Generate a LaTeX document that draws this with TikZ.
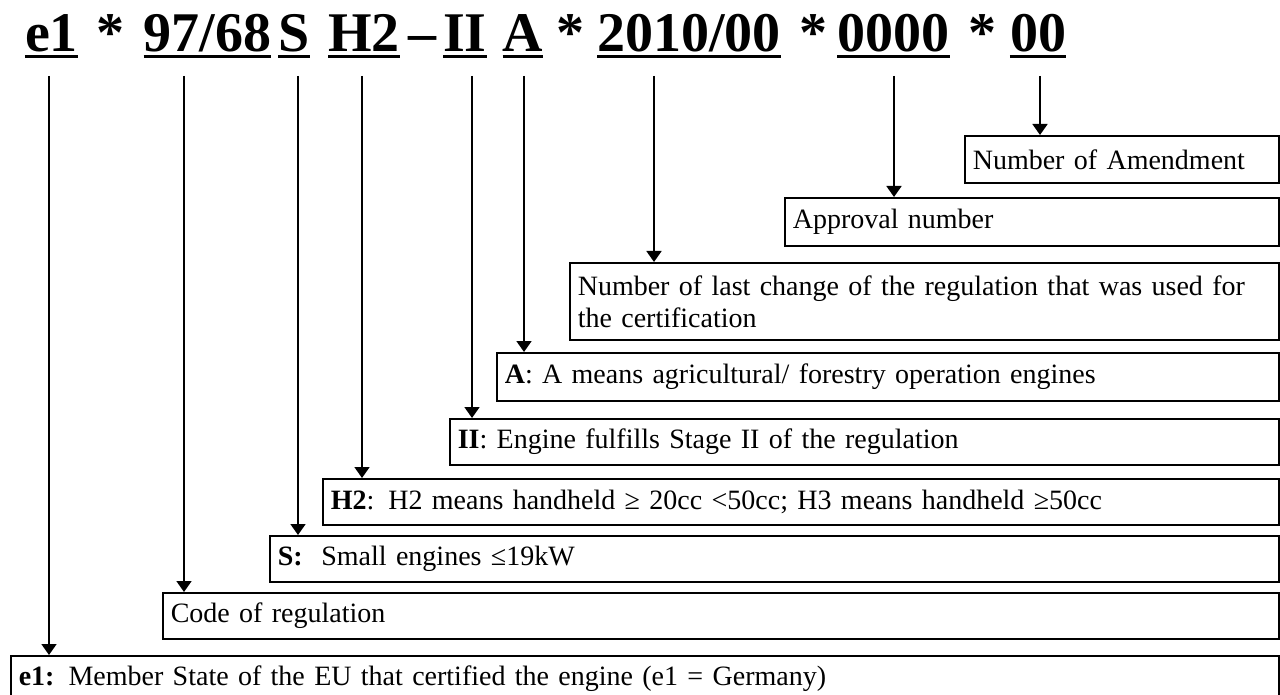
\documentclass[tikz,border=0pt]{standalone}
\usepackage{fontspec}
\setmainfont{Liberation Serif}
\usetikzlibrary{arrows.meta}
\begin{document}
\begin{tikzpicture}[x=1pt,y=-1pt,
  every node/.style={font=\fontsize{28}{32}\selectfont},
  tok/.style={font=\fontsize{56}{60}\selectfont\bfseries, inner sep=0pt, anchor=base},
  uline/.style={line width=3pt},
  infobox/.style={draw, line width=1.6pt, anchor=north west, inner xsep=8pt, inner ysep=0pt, align=left},
  arr/.style={line width=1.8pt, -{Triangle[width=15pt,length=11pt]}}]
\useasboundingbox (0,0) rectangle (1280,695);

% title tokens
\node[tok] (te1)   at (51.5,52) {e1};
\node[tok] (s1)    at (110.5,52) {*};
\node[tok] (t9768) at (207.5,52) {97/68};
\node[tok] (tS)    at (294,52) {S};
\node[tok] (tH2)   at (364,52) {H2};
\node[tok] (dash)  at (422,52) {–};
\node[tok] (tII)   at (465,52) {II};
\node[tok] (tA)    at (523,52) {A};
\node[tok] (s2)    at (570,52) {*};
\node[tok] (t2010) at (689,52) {2010/00};
\node[tok] (s3)    at (813.5,52) {*};
\node[tok] (t0000) at (893.5,52) {0000};
\node[tok] (s4)    at (982.5,52) {*};
\node[tok] (t00)   at (1038,52) {00};
\foreach \t in {te1,t9768,tS,tH2,tII,tA,t2010,t0000,t00}
  \draw[uline] ([yshift=-5pt]\t.base west) -- ([yshift=-5pt]\t.base east);

% boxes
\node[infobox, text width=298pt, minimum height=47pt] (bnoa) at (964,135) {Number of Amendment};
\node[infobox, text width=478pt, minimum height=48pt] (bapp) at (784,197) {Approval number};
\node[infobox, text width=693pt, minimum height=77pt] (bnlc) at (569,262) {Number of last change of the regulation that was used for\\the certification};
\node[infobox, text width=766pt, minimum height=48pt] (bA) at (496,352) {\textbf{A}: A means agricultural/ forestry operation engines};
\node[infobox, text width=813pt, minimum height=46pt] (bII) at (449,418) {\textbf{II}: Engine fulfills Stage II of the regulation};
\node[infobox, text width=940pt, minimum height=46pt] (bH2) at (322,478) {\textbf{H2}: H2 means handheld ≥ 20cc <50cc; H3 means handheld ≥50cc};
\node[infobox, text width=993pt, minimum height=46pt] (bS) at (269,535) {\textbf{S:}\ \ Small engines ≤19kW};
\node[infobox, text width=1100pt, minimum height=46pt] (bcode) at (162,592) {Code of regulation};
\node[infobox, text width=1252pt, minimum height=46pt] (be1) at (10,655) {\textbf{e1:} Member State of the EU that certified the engine (e1 = Germany)};

% arrow starts
\coordinate (a1) at (49,76);
\coordinate (a2) at (184,76);
\coordinate (a3) at (298,76);
\coordinate (a4) at (362,76);
\coordinate (a5) at (472,76);
\coordinate (a6) at (524,76);
\coordinate (a7) at (654,76);
\coordinate (a8) at (894,76);
\coordinate (a9) at (1040,76);

\draw[arr] (a1) -- (a1 |- be1.north);
\draw[arr] (a2) -- (a2 |- bcode.north);
\draw[arr] (a3) -- (a3 |- bS.north);
\draw[arr] (a4) -- (a4 |- bH2.north);
\draw[arr] (a5) -- (a5 |- bII.north);
\draw[arr] (a6) -- (a6 |- bA.north);
\draw[arr] (a7) -- (a7 |- bnlc.north);
\draw[arr] (a8) -- (a8 |- bapp.north);
\draw[arr] (a9) -- (a9 |- bnoa.north);
\end{tikzpicture}
\end{document}
